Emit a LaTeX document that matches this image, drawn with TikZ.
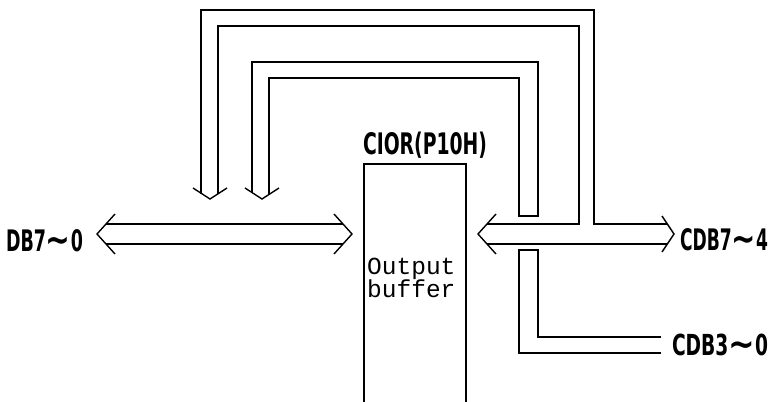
\documentclass[tikz,border=0pt]{standalone}
\usepackage{fontspec}
\setmainfont{Liberation Mono}
\newfontfamily\lblfont{DejaVu Sans Condensed}[BoldFont={DejaVu Sans Condensed Bold}]
\newfontfamily\buffont{Liberation Mono}
% wide wave dash used in the bus names
\newcommand{\wavedash}{\raisebox{-0.06em}{\scalebox{1.7}[1.25]{∼}}}
\begin{document}
\begin{tikzpicture}[x=1pt,y=-1pt,
  bus/.style={line width=1.3pt,line join=miter},
  chev/.style={line width=1.4pt,line join=miter},
  boxline/.style={draw,line width=1.8pt},
  lbl/.style={anchor=base west,inner sep=0pt,outer sep=0pt},
  buftext/.style={anchor=base west,inner sep=0pt,text height=14pt,text depth=4pt,
    font=\buffont\fontsize{24.5}{24.5}\selectfont}]
\useasboundingbox (0,0) rectangle (772,402);

% output buffer register
\node (buf) [boxline,anchor=north west,minimum width=102pt,minimum height=280pt,inner sep=0pt] at (363,163) {};
\node (t1) [buftext] at (367,274) {Output};
\node (t2) [buftext] at (367,297) {buffer};

% labels
\node (cior) [lbl] at (363,154) {\resizebox{124pt}{22.5pt}{\lblfont\bfseries CIOR(P10H)}};
\node (db)   [lbl] at (6,251)   {\resizebox{77pt}{22pt}{\lblfont\bfseries DB7\wavedash0}};
\node (cdbh) [lbl] at (680,250) {\resizebox{88pt}{22pt}{\lblfont\bfseries CDB7\wavedash4}};
\node (cdbl) [lbl] at (672,355) {\resizebox{96pt}{21.5pt}{\lblfont\bfseries CDB3\wavedash0}};

% bus DB7-0 (double line, arrow heads at both ends)
\coordinate (dbL) at (97,234);
\coordinate (dbR) at (352,234);
\draw[bus] (106,224) -- (343,224);
\draw[bus] (106,244) -- (343,244);
\draw[chev] ([shift={(18,-20)}]dbL) -- (dbL) -- ([shift={(18,20)}]dbL);
\draw[chev] ([shift={(-18,-20)}]dbR) -- (dbR) -- ([shift={(-18,20)}]dbR);

% bus CDB7-4
\coordinate (cbL) at (478,234);
\coordinate (cbR) at (674,234);
\draw[chev] ([shift={(18,-20)}]cbL) -- (cbL) -- ([shift={(18,20)}]cbL);
\draw[chev] ([shift={(-12,-18)}]cbR) -- (cbR) -- ([shift={(-12,18)}]cbR);
\draw[bus] (487,244) -- (667,244);

% outer feedback loop joining the CDB bus
\coordinate (dnA) at (210,199);
\draw[bus] (201,193.5) -- (201,10) -- (594,10) -- (594,224) -- (667,224);
\draw[bus] (218,193.5) -- (218,26) -- (579,26) -- (579,224) -- (487,224);
\draw[chev] ([shift={(-17,-11)}]dnA) -- (dnA) -- ([shift={(17,-11)}]dnA);

% inner feedback loop (closed end above the CDB bus)
\coordinate (dnB) at (262,199);
\draw[bus] (252,193) -- (252,62) -- (538,62) -- (538,216) -- (519,216) -- (519,78) -- (269,78) -- (269,193.5);
\draw[chev] ([shift={(-17,-11)}]dnB) -- (dnB) -- ([shift={(17,-11)}]dnB);

% bus CDB3-0
\draw[bus] (661,337) -- (538,337) -- (538,250) -- (519,250) -- (519,353) -- (661,353);
\end{tikzpicture}
\end{document}
